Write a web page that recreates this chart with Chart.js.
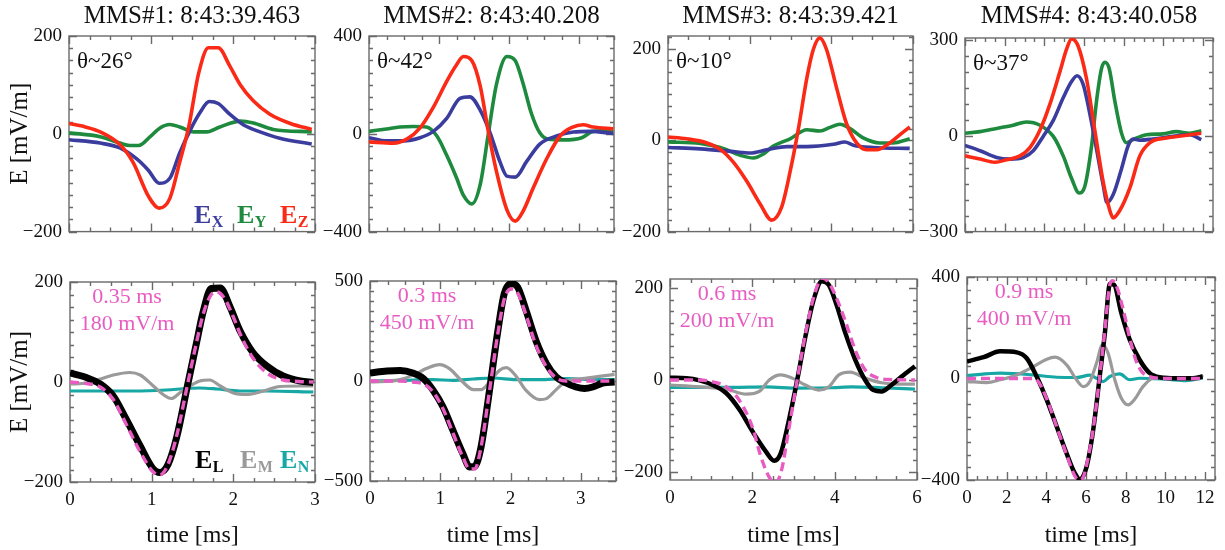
<!DOCTYPE html>
<html>
<head>
<meta charset="utf-8">
<script src="https://cdn.jsdelivr.net/npm/chart.js@4.4.1/dist/chart.umd.min.js"></script>
<style>
  body { margin: 0; background: #fff; width: 1225px; height: 550px; position: relative; overflow: hidden; }
  canvas { position: absolute; }
</style>
</head>
<body>
<script>
// --- PANEL LABELS ---
const titles = ['MMS#1: 8:43:39.463', 'MMS#2: 8:43:40.208', 'MMS#3: 8:43:39.421', 'MMS#4: 8:43:40.058'];
const thetas = ['θ~26°', 'θ~42°', 'θ~10°', 'θ~37°'];
const fitWidths = ['0.35 ms', '0.3 ms', '0.6 ms', '0.9 ms'];
const fitAmps = ['180 mV/m', '450 mV/m', '200 mV/m', '400 mV/m'];

// --- AXES ---
const xMax = [3, 3.5, 6, 12.5];
const xTicks = [[0, 1, 2, 3], [0, 1, 2, 3], [0, 2, 4, 6], [0, 2, 4, 6, 8, 10, 12]];
const xMinor = [0.25, 0.25, 0.5, 0.5];
const yTopMin = [-200, -400, -200, -300];
const yTopMax = [200, 400, 228, 306];
const yTopTicks = [[-200, 0, 200], [-400, 0, 400], [-200, 0, 200], [-300, 0, 300]];
const yTopMinor = [25, 50, 25, 50];
const yBotMin = [-200, -500, -218, -400];
const yBotMax = [200, 500, 220, 400];
const yBotTicks = [[-200, 0, 200], [-500, 0, 500], [-200, 0, 200], [-400, 0, 400]];
const yBotMinor = [25, 50, 25, 50];

// --- TOP ROW: Ex, Ey, Ez (mV/m) ---
const t1Ez = [0, 0.2, 0.38, 0.62, 0.78, 0.97, 1.10, 1.23, 1.35, 1.46, 1.58, 1.70, 1.82, 1.96, 2.09, 2.25, 2.45, 2.70, 2.96];
const e1Ez = [21, 14, 4, -22, -58, -128, -152, -132, -58, 14, 123, 176, 176, 139, 100, 67, 40, 21, 9];
const t1Ex = [0, 0.38, 0.62, 0.83, 0.97, 1.10, 1.23, 1.35, 1.48, 1.60, 1.71, 1.82, 1.96, 2.13, 2.33, 2.57, 2.96];
const e1Ex = [-12, -19, -29, -52, -75, -101, -91, -39, 8, 44, 66, 62, 40, 18, 4, -9, -21];
const t1Ey = [0, 0.38, 0.62, 0.74, 0.85, 0.99, 1.11, 1.23, 1.35, 1.52, 1.68, 1.84, 2.09, 2.25, 2.49, 2.96];
const e1Ey = [2, -6, -19, -24, -24, -6, 12, 19, 14, 4, 4, 14, 26, 22, 9, 4];

const t2Ez = [0, 0.35, 0.54, 0.73, 0.92, 1.11, 1.23, 1.35, 1.47, 1.59, 1.70, 1.82, 1.97, 2.09, 2.20, 2.35, 2.54, 2.73, 2.90, 3.06, 3.20, 3.49];
const e2Ez = [-33, -38, -22, 24, 109, 214, 273, 316, 299, 194, 17, -153, -311, -357, -317, -219, -101, -9, 26, 37, 28, 20];
const t2Ex = [0, 0.25, 0.49, 0.73, 0.92, 1.11, 1.30, 1.44, 1.59, 1.73, 1.87, 1.97, 2.09, 2.25, 2.44, 2.68, 2.92, 3.16, 3.49];
const e2Ex = [-16, -29, -29, -16, 10, 63, 145, 151, 96, 4, -114, -173, -177, -114, -42, -9, 7, 10, 1];
const t2Ey = [0, 0.25, 0.44, 0.63, 0.82, 0.97, 1.11, 1.25, 1.35, 1.47, 1.59, 1.70, 1.82, 1.97, 2.09, 2.20, 2.32, 2.44, 2.56, 2.78, 3.04, 3.20, 3.49];
const e2Ey = [10, 20, 28, 30, 28, -9, -88, -180, -252, -287, -206, -9, 201, 316, 299, 207, 83, 4, -22, -25, -16, 10, 14];

const t3Ez = [0, 0.46, 0.95, 1.28, 1.60, 1.93, 2.26, 2.54, 2.78, 2.99, 3.19, 3.40, 3.56, 3.72, 3.88, 4.13, 4.37, 4.62, 4.86, 5.11, 5.43, 5.72, 5.92];
const e3Ez = [7, 3, -6, -20, -48, -90, -140, -175, -147, -69, 23, 136, 199, 224, 199, 114, 37, -6, -21, -21, -6, 15, 29];
const t3Ex = [0, 0.79, 1.60, 2.01, 2.42, 2.91, 3.40, 4.05, 4.33, 4.54, 5.02, 5.92];
const e3Ex = [-16, -19, -25, -28, -21, -14, -14, -9, -4, -11, -16, -18];
const t3Ey = [0, 0.79, 1.28, 1.77, 2.09, 2.34, 2.58, 2.99, 3.40, 3.72, 3.97, 4.21, 4.45, 4.78, 5.19, 5.51, 5.92];
const e3Ey = [-4, -7, -16, -33, -39, -30, -13, 3, 23, 20, 28, 35, 26, 5, -6, -6, 3];

const t4Ez = [0, 0.76, 1.51, 2.10, 2.77, 3.27, 3.78, 4.28, 4.78, 5.12, 5.37, 5.70, 6.12, 6.54, 6.96, 7.30, 7.47, 7.80, 8.31, 8.81, 9.31, 10.15, 10.99, 11.91];
const e4Ez = [-63, -73, -83, -75, -63, -37, 18, 99, 200, 271, 303, 281, 180, 18, -143, -234, -257, -234, -163, -63, -22, -7, 0, 8];
const t4Ex = [0, 0.76, 1.59, 2.27, 2.94, 3.44, 3.94, 4.45, 4.95, 5.37, 5.65, 5.96, 6.29, 6.63, 6.96, 7.16, 7.47, 7.89, 8.22, 8.47, 8.81, 9.48, 10.49, 11.33, 11.91];
const e4Ex = [-30, -47, -68, -73, -68, -47, -2, 48, 119, 170, 188, 160, 69, -42, -153, -209, -184, -103, -32, -10, -14, -10, -2, 3, -12];
const t4Ey = [0, 0.76, 1.59, 2.43, 3.10, 3.78, 4.45, 4.95, 5.37, 5.75, 6.04, 6.38, 6.63, 6.88, 7.05, 7.27, 7.55, 7.89, 8.14, 8.47, 9.14, 9.98, 10.65, 11.33, 11.91];
const e4Ey = [8, 13, 23, 33, 43, 33, -2, -63, -133, -179, -158, -32, 109, 210, 230, 210, 109, 8, -22, -12, 3, 6, 13, 8, 16];

// --- BOTTOM ROW: EL, fit, EM, EN (mV/m) ---
const t1L = [0, 0.20, 0.37, 0.53, 0.69, 0.86, 1.02, 1.10, 1.20, 1.31, 1.43, 1.55, 1.63, 1.73, 1.84, 1.96, 2.08, 2.24, 2.41, 2.61, 2.82, 2.98];
const e1L = [18, 9, -4, -28, -75, -128, -174, -181, -165, -108, -14, 79, 140, 187, 188, 150, 103, 59, 32, 12, 2, -1];
const t1F = [0, 0.20, 0.37, 0.53, 0.69, 0.86, 1.02, 1.10, 1.20, 1.31, 1.43, 1.55, 1.63, 1.73, 1.80, 1.90, 2.00, 2.10, 2.24, 2.41, 2.61, 2.80, 2.98];
const e1F = [0, -3, -10, -35, -85, -140, -180, -186, -165, -105, -12, 80, 135, 175, 180, 165, 130, 90, 48, 18, 4, 1, 0];
const t1M = [0, 0.20, 0.37, 0.53, 0.73, 0.86, 1.02, 1.14, 1.24, 1.35, 1.47, 1.59, 1.71, 1.84, 2.00, 2.16, 2.37, 2.57, 2.82, 2.98];
const e1M = [-4, -2, 6, 14, 19, 14, -8, -25, -33, -21, -8, 2, 4, -8, -22, -25, -18, -9, -8, -8];
const t1N = [0, 0.37, 0.78, 1.18, 1.43, 1.59, 1.80, 2.08, 2.41, 2.98];
const e1N = [-18, -18, -18, -16, -13, -12, -14, -18, -18, -20];

const t2L = [0, 0.24, 0.43, 0.61, 0.76, 0.90, 1.04, 1.18, 1.32, 1.42, 1.49, 1.58, 1.70, 1.82, 1.91, 2.01, 2.10, 2.22, 2.36, 2.51, 2.65, 2.79, 2.93, 3.05, 3.17, 3.31, 3.48];
const e2L = [40, 50, 53, 40, 12, -47, -130, -247, -363, -430, -427, -330, -47, 253, 437, 487, 470, 353, 203, 87, 20, -10, -30, -38, -30, -10, -5];
const t2F = [0, 0.40, 0.61, 0.76, 0.90, 1.04, 1.18, 1.32, 1.42, 1.49, 1.58, 1.70, 1.82, 1.91, 2.01, 2.10, 2.22, 2.36, 2.51, 2.65, 2.79, 3.00, 3.48];
const e2F = [0, 0, -5, -15, -55, -140, -260, -380, -440, -440, -330, -50, 240, 410, 460, 440, 330, 180, 70, 15, 0, 0, 0];
const t2M = [0, 0.43, 0.66, 0.80, 0.99, 1.13, 1.32, 1.47, 1.58, 1.70, 1.84, 1.94, 2.08, 2.22, 2.41, 2.51, 2.65, 2.79, 3.03, 3.26, 3.48];
const e2M = [-5, 7, 37, 62, 82, 62, -5, -43, -43, -5, 53, 67, 23, -47, -93, -88, -43, -2, 12, 23, 33];
const t2N = [0, 0.43, 0.90, 1.18, 1.47, 1.75, 2.08, 2.41, 2.79, 3.07, 3.48];
const e2N = [0, 3, 7, 3, 10, 15, 7, 7, 12, 8, 7];

const t3L = [0, 0.40, 0.72, 1.04, 1.37, 1.69, 2.01, 2.33, 2.53, 2.69, 2.89, 3.09, 3.29, 3.49, 3.69, 3.86, 4.06, 4.26, 4.50, 4.74, 4.94, 5.14, 5.38, 5.62, 5.95];
const e3L = [5, 4, -1, -11, -29, -65, -113, -156, -176, -160, -87, 0, 95, 175, 215, 207, 160, 102, 44, 0, -22, -25, -11, 7, 30];
const t3F = [0, 0.72, 1.04, 1.37, 1.69, 2.01, 2.20, 2.40, 2.55, 2.70, 2.89, 3.09, 3.29, 3.49, 3.70, 3.86, 4.06, 4.26, 4.50, 4.74, 5.00, 5.30, 5.95];
const e3F = [0, 0, -4, -15, -45, -105, -165, -210, -225, -200, -105, 0, 100, 180, 222, 212, 175, 128, 65, 22, 6, 1, 0];
const t3M = [0, 0.72, 1.37, 1.85, 2.17, 2.41, 2.69, 2.97, 3.29, 3.61, 3.86, 4.10, 4.38, 4.74, 5.14, 5.54, 5.95];
const e3M = [-11, -15, -20, -31, -25, 0, 11, 4, -11, -22, -15, 11, 17, 4, -6, -9, -9];
const t3N = [0, 1.53, 2.33, 3.13, 3.94, 4.42, 5.14, 5.95];
const e3N = [-16, -16, -15, -18, -17, -15, -17, -20];

const t4L = [0, 0.84, 1.67, 2.51, 3.01, 3.51, 4.02, 4.52, 5.02, 5.44, 5.69, 6.03, 6.36, 6.69, 6.95, 7.20, 7.40, 7.78, 8.20, 8.70, 9.21, 9.71, 10.54, 11.38, 11.88];
const e4L = [67, 84, 107, 103, 80, 8, -84, -189, -295, -374, -397, -347, -203, 8, 179, 372, 370, 258, 153, 74, 21, 5, 1, 1, 8];
const t4F = [0, 3.30, 3.51, 4.02, 4.52, 5.02, 5.44, 5.65, 5.85, 6.03, 6.36, 6.69, 6.95, 7.20, 7.35, 7.60, 7.78, 8.00, 8.20, 8.50, 8.80, 9.20, 10.00, 11.90];
const e4F = [0, 0, -5, -80, -190, -300, -385, -400, -390, -340, -200, 10, 190, 370, 385, 350, 300, 230, 160, 75, 28, 8, 0, 0];
const t4M = [0, 1.00, 1.67, 2.51, 3.35, 4.02, 4.44, 5.02, 5.52, 5.86, 6.19, 6.53, 6.83, 7.11, 7.45, 7.78, 8.12, 8.45, 8.87, 9.37, 10.04, 10.88, 11.72, 11.88];
const e4M = [-12, -16, -5, 14, 47, 76, 84, 54, -5, -32, -12, 61, 133, 100, -5, -78, -104, -82, -32, 1, 5, -3, 1, 14];
const t4N = [0, 1.67, 3.35, 4.52, 5.52, 6.19, 6.53, 6.86, 7.20, 7.70, 8.20, 8.70, 10.04, 11.05, 11.88];
const e4N = [11, 21, 14, 5, 4, 13, 1, -12, 8, 18, -5, 1, -3, -8, 1];

// --- STYLE ---
const FF = "'Liberation Serif', 'Times New Roman', serif";
const C_X = '#3b3d9e', C_Y = '#1e8a3e', C_Z = '#fa2a16';
const C_L = '#000000', C_M = '#9a9a9a', C_N = '#17a8a6', C_FIT = '#e85cc2';

// plot boxes in page pixels [row][col]
const boxes = [
    [{ l: 69, r: 315, t: 36, b: 238 }, { l: 369, r: 614, t: 36, b: 238 }, { l: 668, r: 913, t: 36, b: 238 }, { l: 965, r: 1213, t: 38, b: 238 }],
    [{ l: 70, r: 315, t: 282, b: 482 }, { l: 370, r: 616, t: 281, b: 481 }, { l: 670, r: 917, t: 279, b: 480 }, { l: 967, r: 1215, t: 277, b: 480 }]
];

function pts(t, v) { return t.map((x, i) => ({ x: x, y: v[i] })); }

function line(t, v, color, width, dash) {
    return {
        data: pts(t, v),
        borderColor: color,
        borderWidth: width,
        borderDash: dash || [],
        pointRadius: 0,
        fill: false,
        cubicInterpolationMode: 'monotone',
        borderJoinStyle: 'round'
    };
}

const fmt = v => v < 0 ? '\u2212' + Math.abs(v) : String(v);

// frame, inward ticks on all sides, and in-panel texts
function panelPlugin(o) {
    return {
        id: 'panel',
        beforeDatasetsDraw(chart) {
            const { ctx, chartArea: a } = chart;
            const xs = chart.scales.x, ys = chart.scales.y;
            ctx.save();
            ctx.strokeStyle = '#6a6a6a';
            ctx.lineWidth = 1.4;
            ctx.beginPath();
            let k0 = Math.ceil(xs.min / o.xMinor - 1e-6), k1 = Math.floor(xs.max / o.xMinor + 1e-6);
            for (let k = k0; k <= k1; k++) {
                const v = k * o.xMinor;
                const len = o.xMajor.some(m => Math.abs(m - v) < 1e-6) ? 8 : 4;
                const px = Math.round(xs.getPixelForValue(v)) + 0.5;
                ctx.moveTo(px, a.bottom); ctx.lineTo(px, a.bottom - len);
                ctx.moveTo(px, a.top); ctx.lineTo(px, a.top + len);
            }
            k0 = Math.ceil(ys.min / o.yMinor - 1e-6); k1 = Math.floor(ys.max / o.yMinor + 1e-6);
            for (let k = k0; k <= k1; k++) {
                const v = k * o.yMinor;
                const len = o.yMajor.some(m => Math.abs(m - v) < 1e-6) ? 8 : 4;
                const py = Math.round(ys.getPixelForValue(v)) + 0.5;
                ctx.moveTo(a.left, py); ctx.lineTo(a.left + len, py);
                ctx.moveTo(a.right, py); ctx.lineTo(a.right - len, py);
            }
            ctx.stroke();
            ctx.strokeRect(a.left, a.top, a.width, a.height);
            ctx.restore();
        },
        afterDatasetsDraw(chart) {
            const { ctx, chartArea: a } = chart;
            ctx.save();
            o.texts.forEach(it => {
                ctx.font = it.font;
                ctx.fillStyle = it.color;
                ctx.textAlign = it.align || 'left';
                ctx.textBaseline = it.baseline || 'alphabetic';
                ctx.fillText(it.text, a.left + it.dx, a.top + it.dy);
            });
            o.subs.forEach(it => {
                ctx.textAlign = 'left';
                ctx.textBaseline = 'alphabetic';
                ctx.fillStyle = it.color;
                ctx.font = 'bold 26px ' + FF;
                const x = a.left + it.dx, y = a.top + it.dy;
                ctx.fillText('E', x, y);
                const w = ctx.measureText('E').width;
                ctx.font = 'bold 16px ' + FF;
                ctx.fillText(it.sub, x + w + 0.5, y + 4);
            });
            ctx.restore();
        }
    };
}

function makePanel(row, col, datasets) {
    const b = boxes[row][col];
    const yW = col === 0 ? b.l : 65;
    const rowTop = row === 0 ? 0 : 250;
    const rowH = row === 0 ? 250 : 300;
    const padR = 14;
    const cv = document.createElement('canvas');
    cv.width = yW + (b.r - b.l) + padR;
    cv.height = rowH;
    cv.style.left = (b.l - yW) + 'px';
    cv.style.top = rowTop + 'px';
    document.body.appendChild(cv);

    const yMin = row === 0 ? yTopMin[col] : yBotMin[col];
    const yMax = row === 0 ? yTopMax[col] : yBotMax[col];
    const yLabels = row === 0 ? yTopTicks[col] : yBotTicks[col];
    const xAxisH = rowTop + rowH - b.b;

    const texts = [];
    const subs = [];
    if (row === 0) {
        texts.push({ text: thetas[col], dx: 8, dy: 26, font: '23px ' + FF, color: '#111', baseline: 'middle' });
        if (col === 0) {
            subs.push({ sub: 'X', dx: 125, dy: 187, color: C_X });
            subs.push({ sub: 'Y', dx: 168, dy: 187, color: C_Y });
            subs.push({ sub: 'Z', dx: 211, dy: 187, color: C_Z });
        }
    } else {
        texts.push({ text: fitWidths[col], dx: 57, dy: 15, font: '22px ' + FF, color: C_FIT, align: 'center', baseline: 'middle' });
        texts.push({ text: fitAmps[col], dx: 57, dy: 42, font: '22px ' + FF, color: C_FIT, align: 'center', baseline: 'middle' });
        if (col === 0) {
            subs.push({ sub: 'L', dx: 125, dy: 186, color: C_L });
            subs.push({ sub: 'M', dx: 170, dy: 186, color: C_M });
            subs.push({ sub: 'N', dx: 210, dy: 186, color: C_N });
        }
    }

    new Chart(cv, {
        type: 'line',
        data: { datasets: datasets },
        options: {
            responsive: false,
            animation: false,
            events: [],
            devicePixelRatio: 1,
            layout: { padding: { left: 0, right: padR, top: row === 0 ? 0 : b.t - rowTop, bottom: 0 } },
            plugins: {
                legend: { display: false },
                tooltip: { enabled: false },
                title: {
                    display: row === 0,
                    text: titles[col],
                    color: '#111',
                    fullSize: false,
                    font: { family: FF, size: 25, weight: 'normal', lineHeight: '28px' },
                    padding: { top: 2, bottom: b.t - 30 }
                }
            },
            scales: {
                x: {
                    type: 'linear',
                    min: 0,
                    max: xMax[col],
                    afterBuildTicks: s => { s.ticks = xTicks[col].map(v => ({ value: v })); },
                    afterFit: s => { s.height = xAxisH; },
                    grid: { display: false, drawTicks: false },
                    border: { display: false },
                    ticks: {
                        display: row === 1,
                        color: '#111',
                        padding: 7,
                        maxRotation: 0,
                        autoSkip: false,
                        font: { family: FF, size: 19 },
                        callback: fmt
                    },
                    title: {
                        display: row === 1,
                        text: 'time [ms]',
                        color: '#111',
                        font: { family: FF, size: 24 },
                        padding: { top: 0, bottom: 0 }
                    }
                },
                y: {
                    type: 'linear',
                    min: yMin,
                    max: yMax,
                    afterBuildTicks: s => { s.ticks = yLabels.map(v => ({ value: v })); },
                    afterFit: s => { s.width = yW; },
                    grid: { display: false, drawTicks: false },
                    border: { display: false },
                    ticks: {
                        color: '#111',
                        padding: 7,
                        autoSkip: false,
                        font: { family: FF, size: 19 },
                        callback: fmt
                    },
                    title: {
                        display: col === 0,
                        text: 'E [mV/m]',
                        color: '#111',
                        font: { family: FF, size: 25 },
                        padding: { top: 5, bottom: 0 }
                    }
                }
            }
        },
        plugins: [panelPlugin({
            xMinor: xMinor[col], xMajor: xTicks[col],
            yMinor: row === 0 ? yTopMinor[col] : yBotMinor[col], yMajor: yLabels,
            texts: texts, subs: subs
        })]
    });
}

// --- TOP ROW ---
const topSets = [
    [t1Ez, e1Ez, t1Ex, e1Ex, t1Ey, e1Ey],
    [t2Ez, e2Ez, t2Ex, e2Ex, t2Ey, e2Ey],
    [t3Ez, e3Ez, t3Ex, e3Ex, t3Ey, e3Ey],
    [t4Ez, e4Ez, t4Ex, e4Ex, t4Ey, e4Ey]
];
topSets.forEach((s, col) => {
    makePanel(0, col, [
        line(s[0], s[1], C_Z, 3.6),
        line(s[2], s[3], C_X, 3.6),
        line(s[4], s[5], C_Y, 3.6)
    ]);
});

// --- BOTTOM ROW ---
const botSets = [
    [t1F, e1F, t1L, e1L, t1M, e1M, t1N, e1N],
    [t2F, e2F, t2L, e2L, t2M, e2M, t2N, e2N],
    [t3F, e3F, t3L, e3L, t3M, e3M, t3N, e3N],
    [t4F, e4F, t4L, e4L, t4M, e4M, t4N, e4N]
];
const elWidth = [7, 7, 4.5, 4.5];
botSets.forEach((s, col) => {
    makePanel(1, col, [
        line(s[0], s[1], C_FIT, 3.4, [9, 5]),
        line(s[2], s[3], C_L, elWidth[col]),
        line(s[4], s[5], C_M, 3.2),
        line(s[6], s[7], C_N, 3.2)
    ]);
});
</script>
</body>
</html>
